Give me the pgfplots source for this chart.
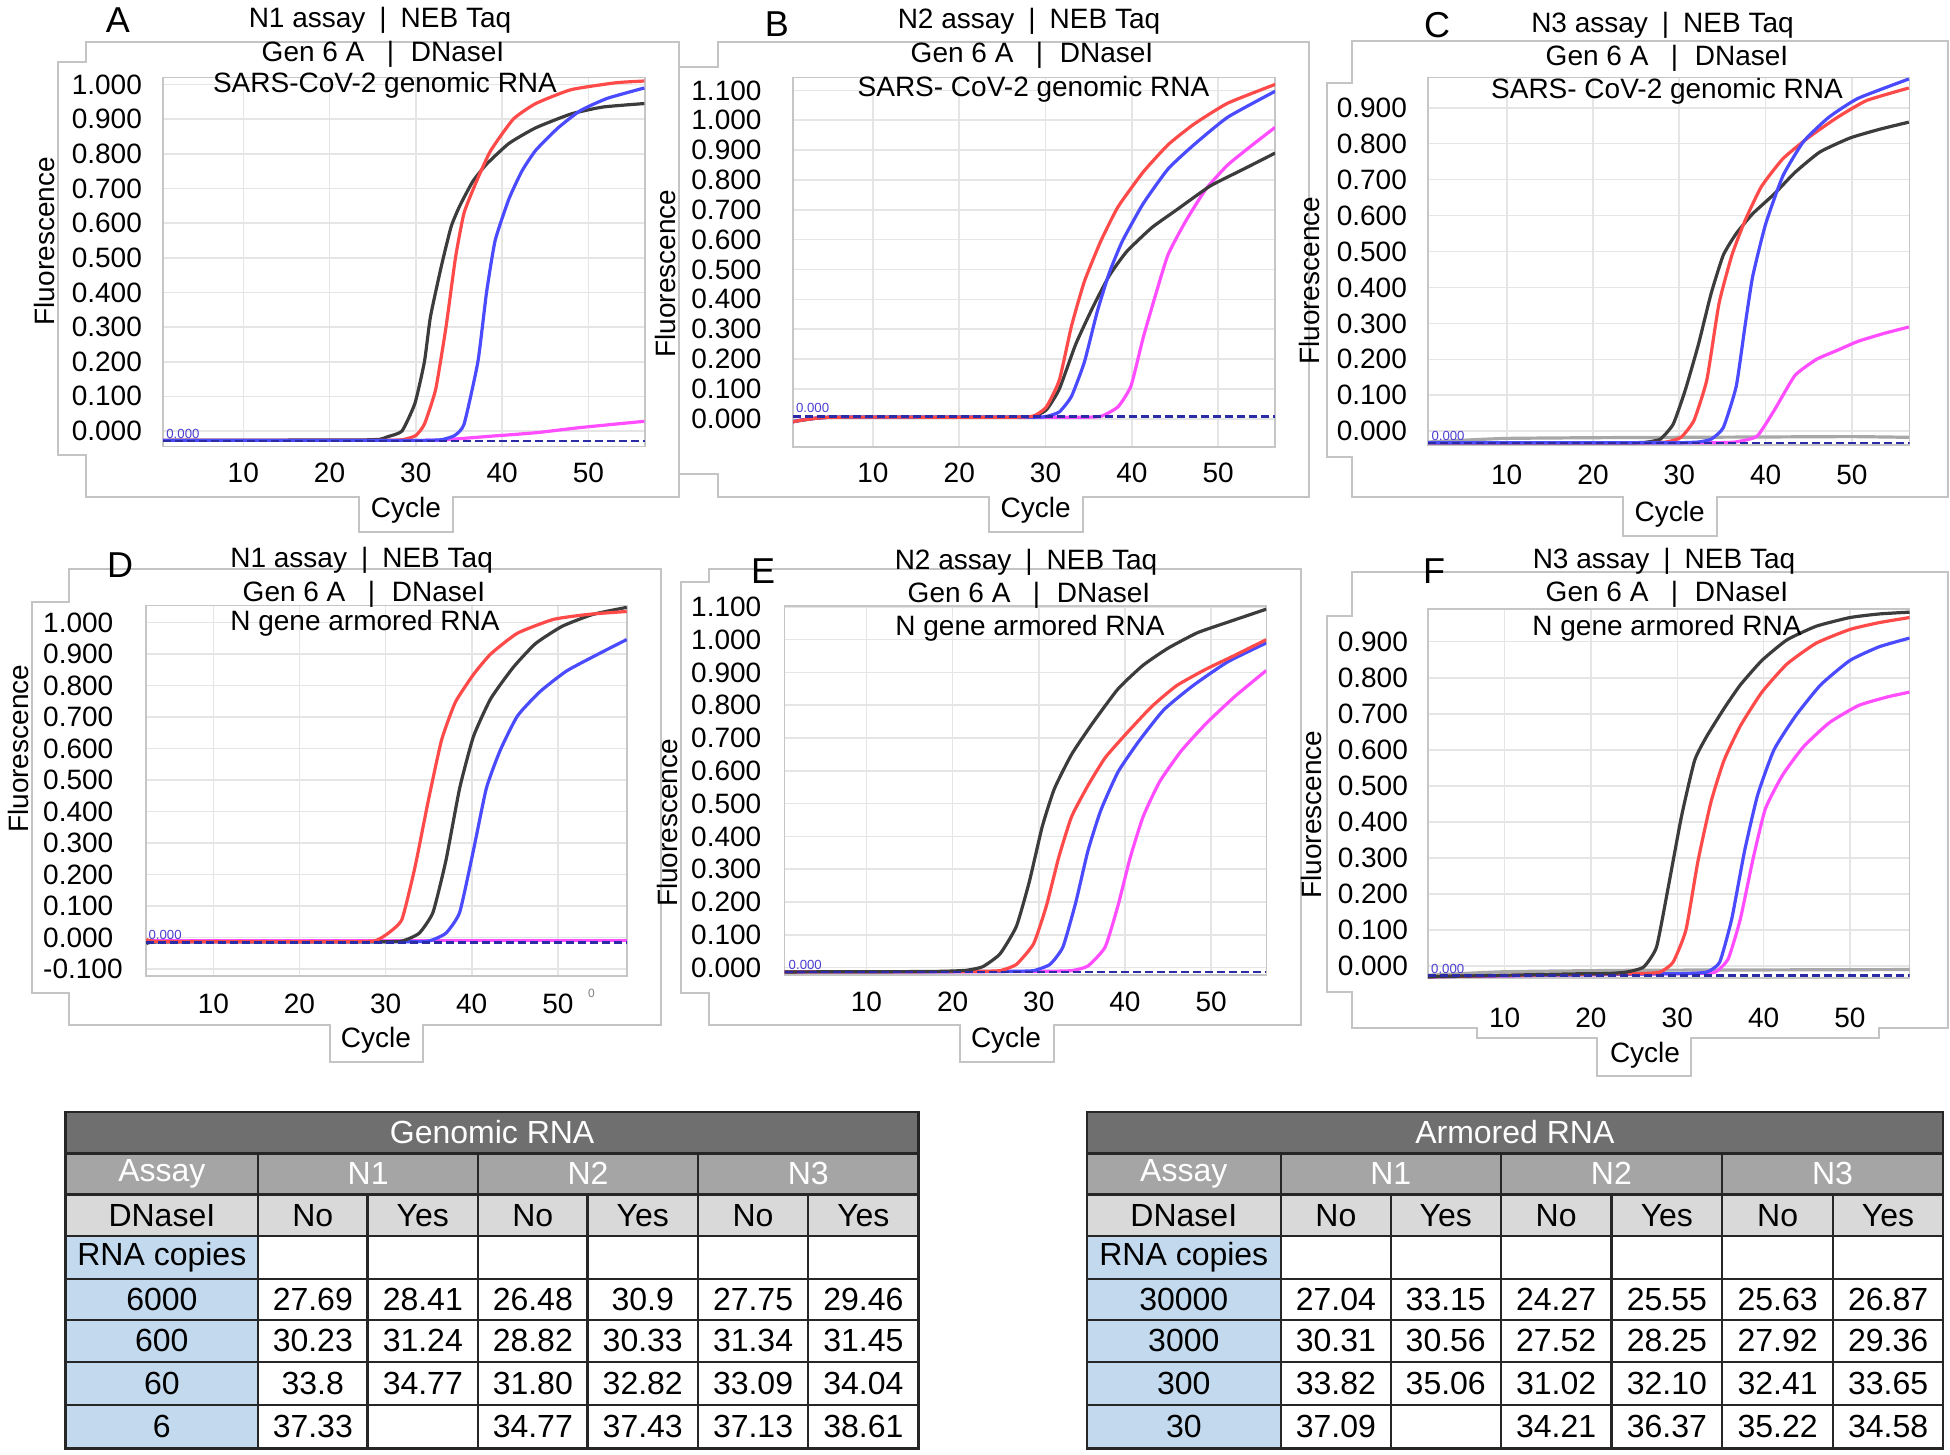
\documentclass[border=0pt]{standalone}
\usepackage{fontspec}
\setmainfont{Liberation Sans}
\usepackage{pgfplots}
\pgfplotsset{compat=1.18}
\definecolor{qblack}{HTML}{3C3C3C}
\definecolor{qred}{HTML}{FF4A4A}
\definecolor{qblue}{HTML}{4A4AFF}
\definecolor{qmag}{HTML}{FF4DFF}
\definecolor{qdash}{HTML}{2B2BA8}
\definecolor{qgray}{HTML}{A8A8A8}
\definecolor{qlab}{HTML}{4B3FD1}
\definecolor{frame}{HTML}{C4C4C4}
\definecolor{tabdark}{HTML}{6F6F6F}
\definecolor{tabmid}{HTML}{A5A5A5}
\definecolor{tablight}{HTML}{D9D9D9}
\definecolor{tabblue}{HTML}{C2D9EE}
\newcommand{\fsz}[1]{\fontsize{#1}{#1}\selectfont}
\pgfplotsset{
  qpcr/.style={scale only axis, anchor=north west,
    xtick={10,20,30,40,50},
    grid=major, major grid style={gray!20, line width=0.4pt},
    axis line style={gray!45, line width=0.4pt},
    tick style={draw=none},
    scaled y ticks=false,
    ticklabel style={font=\fsz{7}},
    /pgf/number format/assume math mode=true,
    yticklabel style={anchor=west, inner sep=0pt,
      /pgf/number format/fixed, /pgf/number format/fixed zerofill,
      /pgf/number format/precision=3},
    xticklabel style={anchor=center, inner sep=0pt},
    every axis plot/.append style={line width=0.8pt, smooth, tension=0.3},
  },
  dashline/.style={qdash, line width=0.6pt, dash pattern=on 2pt off 1pt, sharp plot},
}
\begin{document}
\begin{tikzpicture}
\useasboundingbox (0,0) rectangle (487.5pt,-363.75pt);
% ---------- panel frames ----------
\begin{scope}[x=0.25pt,y=-0.25pt,draw=frame,line width=0.5pt]
\draw (86,41.6) -- (679,41.6) -- (679,496.8) -- (453,496.8) -- (453,532.2) -- (359,532.2) -- (359,496.8) -- (86,496.8) -- (86,455.2) -- (58,455.2) -- (58,61.8) -- (86,61.8) -- cycle;
\draw (718,41.6) -- (1309,41.6) -- (1309,496.8) -- (1083,496.8) -- (1083,532.2) -- (989,532.2) -- (989,496.8) -- (718,496.8) -- (718,474.4) -- (679,474.4) -- (679,66.9) -- (718,66.9) -- cycle;
\draw (1352,40.6) -- (1948,40.6) -- (1948,496.8) -- (1717,496.8) -- (1717,536.3) -- (1622.5,536.3) -- (1622.5,496.8) -- (1352,496.8) -- (1352,457.2) -- (1327,457.2) -- (1327,83.1) -- (1352,83.1) -- cycle;
\draw (69,569.4) -- (661,569.4) -- (661,1024.6) -- (423,1024.6) -- (423,1062.1) -- (329.5,1062.1) -- (329.5,1024.6) -- (69,1024.6) -- (69,993.2) -- (32,993.2) -- (32,601.8) -- (69,601.8) -- cycle;
\draw (708.6,569.4) -- (1301,569.4) -- (1301,1024.6) -- (1054,1024.6) -- (1054,1062.1) -- (960,1062.1) -- (960,1024.6) -- (708.6,1024.6) -- (708.6,993.2) -- (681,993.2) -- (681,581.6) -- (708.6,581.6) -- cycle;
\draw (1352,572.4) -- (1948,572.4) -- (1948,1027.6) -- (1879,1027.6) -- (1879,1038.2) -- (1690.7,1038.2) -- (1690.7,1076.2) -- (1597,1076.2) -- (1597,1038.2) -- (1477,1038.2) -- (1477,1027.6) -- (1352,1027.6) -- (1352,992.3) -- (1327,992.3) -- (1327,616) -- (1352,616) -- cycle;
\end{scope}
% ---------- Panel A ----------
\begin{axis}[qpcr, at={(40.75pt,-19.39pt)}, width=120.5pt, height=92.26pt,
  xmin=0.69, xmax=56.57, ymin=-0.045, ymax=1.02,
  ytick={0,0.1,0.2,0.3,0.4,0.5,0.6,0.7,0.8,0.9,1.0},
  yticklabel style={xshift=-23pt}, xticklabel style={yshift=-6.5pt}]
\addplot[qmag] coordinates {(0.7,-0.027) (30,-0.027) (33,-0.026) (38.7,-0.015) (43.9,-0.005) (49.1,0.01) (56.5,0.028)};
\addplot[qblack] coordinates {(0.7,-0.027) (20,-0.026) (23.5,-0.026) (25.8,-0.024) (26.8,-0.016) (28.4,0.0) (29.9,0.08) (31.0,0.20) (31.7,0.33) (33.0,0.48) (34.1,0.59) (35.1,0.65) (36.6,0.72) (38.2,0.77) (40.8,0.83) (43.9,0.875) (48.0,0.915) (51.7,0.935) (56.5,0.945)};
\addplot[qred] coordinates {(0.7,-0.027) (23,-0.027) (26.5,-0.027) (28.5,-0.025) (30.0,-0.013) (31.0,0.02) (32.3,0.12) (33.5,0.30) (34.6,0.50) (35.6,0.63) (37.2,0.73) (38.7,0.81) (41.3,0.90) (43.9,0.945) (48.0,0.985) (53.2,1.005) (56.5,1.01)};
\addplot[qblue] coordinates {(0.7,-0.027) (27,-0.027) (31,-0.027) (33.0,-0.025) (34.5,-0.013) (35.6,0.02) (37.2,0.20) (38.2,0.40) (39.2,0.55) (40.8,0.67) (42.3,0.75) (43.9,0.81) (46.5,0.875) (49.1,0.925) (52.2,0.96) (56.5,0.99)};
\addplot[dashline] coordinates {(0.7,-0.028) (56.6,-0.028)};
\node[qlab, font=\fsz{3.3}] at (axis cs:3.0,-0.008) {0.000};
\end{axis}
% ---------- Panel B ----------
\begin{axis}[qpcr, at={(198.25pt,-19.39pt)}, width=120.5pt, height=92.39pt,
  xmin=0.73, xmax=56.59, ymin=-0.095, ymax=1.143,
  ytick={-0.1,0,0.1,0.2,0.3,0.4,0.5,0.6,0.7,0.8,0.9,1.0,1.1},
  yticklabel style={xshift=-25.6pt}, xticklabel style={yshift=-6.35pt}]
\addplot[qmag] coordinates {(0.7,-0.01) (5,0.005) (30,0.005) (34,0.005) (36.4,0.008) (38.4,0.04) (39.9,0.11) (41.3,0.27) (42.8,0.42) (44.2,0.55) (46.2,0.66) (48.6,0.77) (51.1,0.85) (54.0,0.918) (56.6,0.976)};
\addplot[qblack] coordinates {(0.7,-0.01) (5,0.005) (22,0.005) (26,0.005) (28.6,0.008) (30.1,0.03) (31.6,0.10) (33.5,0.25) (35.5,0.375) (37.4,0.48) (39.4,0.56) (42.3,0.64) (45.2,0.70) (49.1,0.78) (53.0,0.837) (56.6,0.89)};
\addplot[qblue] coordinates {(0.7,-0.01) (5,0.005) (24,0.005) (28,0.005) (30,0.007) (31.6,0.023) (33.0,0.075) (34.5,0.19) (36.0,0.36) (37.4,0.49) (38.9,0.595) (41.3,0.72) (44.2,0.837) (47.2,0.918) (51.1,1.01) (56.6,1.097)};
\addplot[qred] coordinates {(0.7,-0.01) (5,0.005) (22,0.005) (26,0.005) (28.6,0.009) (30.1,0.04) (31.6,0.13) (33.0,0.31) (34.5,0.46) (36.4,0.595) (38.4,0.71) (41.3,0.826) (44.2,0.918) (47.2,0.987) (51.1,1.057) (56.6,1.12)};
\addplot[dashline] coordinates {(0.7,0.008) (56.6,0.008)};
\node[qlab, font=\fsz{3.3}] at (axis cs:3.0,0.035) {0.000};
\end{axis}
% ---------- Panel C ----------
\begin{axis}[qpcr, at={(357pt,-19.39pt)}, width=120.375pt, height=91.83pt,
  xmin=0.88, xmax=56.68, ymin=-0.038, ymax=0.984,
  ytick={0,0.1,0.2,0.3,0.4,0.5,0.6,0.7,0.8,0.9},
  yticklabel style={xshift=-23pt}, xticklabel style={yshift=-7.6pt}]
\addplot[qgray] coordinates {(0.9,-0.03) (5,-0.025) (10,-0.02) (20,-0.018) (30,-0.017) (40,-0.016) (50,-0.015) (56.6,-0.017)};
\addplot[qmag] coordinates {(0.9,-0.032) (30,-0.032) (34,-0.032) (36.5,-0.030) (39.0,-0.014) (41.0,0.058) (43.4,0.155) (45.9,0.20) (48.3,0.225) (50.7,0.25) (53.7,0.272) (56.6,0.29)};
\addplot[qblack] coordinates {(0.9,-0.032) (20,-0.032) (24,-0.032) (26,-0.031) (27.8,-0.022) (29.3,0.02) (30.7,0.115) (32.2,0.24) (33.7,0.384) (35.1,0.49) (36.6,0.55) (38.5,0.605) (41.0,0.66) (43.4,0.72) (46.3,0.777) (49.8,0.816) (53.2,0.84) (56.6,0.86)};
\addplot[qred] coordinates {(0.9,-0.032) (22,-0.032) (26,-0.032) (28.5,-0.030) (30.2,-0.017) (31.7,0.03) (33.2,0.144) (34.6,0.355) (36.1,0.49) (37.6,0.585) (39.5,0.68) (42.0,0.758) (44.9,0.816) (48.3,0.873) (51.7,0.92) (56.6,0.955)};
\addplot[qblue] coordinates {(0.9,-0.032) (26,-0.032) (30,-0.032) (32.2,-0.030) (33.7,-0.022) (35.1,0.01) (36.6,0.125) (37.6,0.29) (38.5,0.43) (40.0,0.576) (42.0,0.71) (44.4,0.806) (47.3,0.873) (50.7,0.926) (56.6,0.98)};
\addplot[dashline] coordinates {(0.9,-0.032) (56.7,-0.032)};
\node[qlab, font=\fsz{3.3}] at (axis cs:3.2,-0.012) {0.000};
\end{axis}
% ---------- Panel D ----------
\begin{axis}[qpcr, at={(36.5pt,-151.375pt)}, width=120.25pt, height=92.68pt,
  xmin=2.18, xmax=58.03, ymin=-0.1225, ymax=1.054,
  ytick={-0.1,0,0.1,0.2,0.3,0.4,0.5,0.6,0.7,0.8,0.9,1.0},
  yticklabel style={xshift=-25.9pt}, xticklabel style={yshift=-6.85pt}]
\addplot[qmag] coordinates {(2.2,-0.01) (58,-0.01)};
\addplot[qblue] coordinates {(2.2,-0.013) (28,-0.013) (32,-0.013) (35.0,-0.011) (37.0,0.014) (38.6,0.08) (40.2,0.277) (41.7,0.474) (43.3,0.594) (45.3,0.703) (47.9,0.78) (51.0,0.846) (54.7,0.90) (58,0.946)};
\addplot[qblack] coordinates {(2.2,-0.02) (4,-0.013) (25,-0.013) (29,-0.013) (31.9,-0.011) (33.9,0.014) (35.5,0.08) (37.0,0.244) (38.6,0.474) (40.2,0.638) (42.2,0.758) (44.8,0.857) (47.4,0.933) (50.5,0.988) (54.1,1.026) (58,1.048)};
\addplot[qred] coordinates {(2.2,-0.005) (4,-0.013) (22,-0.013) (26,-0.013) (28.8,-0.010) (30.3,0.014) (31.9,0.058) (33.4,0.222) (35.0,0.44) (36.5,0.627) (38.1,0.747) (40.2,0.835) (42.2,0.90) (45.3,0.966) (49.5,1.01) (53.6,1.026) (58,1.035)};
\addplot[dashline] coordinates {(2.2,-0.016) (58,-0.016)};
\node[qlab, font=\fsz{3.3}] at (axis cs:4.4,0.009) {0.000};
\end{axis}
% ---------- Panel E ----------
\begin{axis}[qpcr, at={(196.1pt,-151.55pt)}, width=120.475pt, height=92.25pt,
  xmin=0.48, xmax=56.4, ymin=-0.023, ymax=1.102,
  ytick={0,0.1,0.2,0.3,0.4,0.5,0.6,0.7,0.8,0.9,1.0,1.1},
  yticklabel style={xshift=-23.5pt}, xticklabel style={yshift=-6.7pt}]
\addplot[qmag] coordinates {(0.5,-0.013) (27,-0.012) (31,-0.011) (33.8,-0.009) (35.7,0.005) (37.7,0.063) (39.2,0.19) (40.6,0.335) (42.1,0.46) (44.0,0.566) (46.5,0.66) (49.4,0.744) (52.8,0.828) (56.4,0.906)};
\addplot[qblue] coordinates {(0.5,-0.013) (23,-0.012) (27,-0.011) (29.4,-0.009) (31.3,0.01) (32.8,0.063) (34.3,0.20) (35.7,0.356) (37.2,0.48) (39.2,0.597) (41.6,0.69) (44.5,0.786) (47.9,0.86) (51.9,0.932) (56.4,0.99)};
\addplot[qred] coordinates {(0.5,-0.013) (19,-0.012) (23,-0.011) (25.5,-0.009) (27.4,0.01) (29.4,0.073) (30.9,0.19) (32.3,0.335) (33.8,0.46) (35.7,0.555) (37.7,0.64) (40.1,0.712) (43.1,0.796) (46.0,0.86) (49.4,0.91) (52.8,0.953) (56.4,1.0)};
\addplot[qblack] coordinates {(0.5,-0.013) (15,-0.012) (19,-0.011) (21.6,-0.008) (23.5,0.003) (25.5,0.042) (27.4,0.126) (28.9,0.262) (30.4,0.43) (31.8,0.545) (33.8,0.65) (36.2,0.744) (39.2,0.85) (42.1,0.922) (45.0,0.974) (48.4,1.021) (51.9,1.053) (56.4,1.093)};
\addplot[dashline] coordinates {(0.5,-0.013) (56.4,-0.013)};
\node[qlab, font=\fsz{3.3}] at (axis cs:2.9,0.008) {0.000};
\end{axis}
% ---------- Panel F ----------
\begin{axis}[qpcr, at={(357pt,-152.225pt)}, width=120.375pt, height=92.28pt,
  xmin=1.12, xmax=56.9, ymin=-0.0335, ymax=0.991,
  ytick={0,0.1,0.2,0.3,0.4,0.5,0.6,0.7,0.8,0.9},
  yticklabel style={xshift=-22.75pt}, xticklabel style={yshift=-9.9pt}]
\addplot[qgray] coordinates {(1.1,-0.026) (10,-0.016) (25,-0.012) (40,-0.011) (56.9,-0.01)};
\addplot[qmag] coordinates {(1.1,-0.03) (28,-0.022) (32,-0.021) (34.4,-0.017) (35.9,0.02) (37.3,0.13) (38.8,0.30) (40.2,0.436) (42.2,0.53) (44.6,0.608) (47.6,0.675) (51.0,0.723) (54.4,0.747) (56.9,0.76)};
\addplot[qblue] coordinates {(1.1,-0.03) (27,-0.022) (31,-0.021) (33.4,-0.017) (34.9,0.01) (36.3,0.13) (37.8,0.32) (39.3,0.474) (41.2,0.6) (43.7,0.694) (46.6,0.78) (50.0,0.848) (53.4,0.886) (56.9,0.91)};
\addplot[qred] coordinates {(1.1,-0.03) (22,-0.022) (26,-0.021) (28.0,-0.017) (29.5,0.01) (31.0,0.10) (32.4,0.292) (33.9,0.455) (35.4,0.57) (37.3,0.666) (39.8,0.76) (42.7,0.838) (46.1,0.896) (50.0,0.934) (53.4,0.953) (56.9,0.967)};
\addplot[qblack] coordinates {(1.1,-0.03) (18,-0.022) (22,-0.021) (24.1,-0.017) (26.1,-0.003) (27.6,0.053) (29.0,0.225) (30.5,0.417) (32.0,0.57) (33.4,0.637) (35.4,0.714) (37.3,0.78) (39.8,0.848) (42.7,0.905) (46.1,0.943) (50.0,0.967) (53.4,0.977) (56.9,0.982)};
\addplot[dashline] coordinates {(1.1,-0.026) (56.9,-0.026)};
\node[qlab, font=\fsz{3.3}] at (axis cs:3.4,-0.007) {0.000};
\end{axis}
% ---------- texts ----------
\begin{scope}[x=0.25pt,y=-0.25pt]
\tikzset{ttl/.style={font=\fsz{7}, inner sep=0pt}, let/.style={font=\fsz{9}, inner sep=0pt}}
\node[let] at (118,20) {A};
\node[let] at (777,24.5) {B};
\node[let] at (1437,25) {C};
\node[let] at (120,565) {D};
\node[let] at (763,571.4) {E};
\node[let] at (1434,571.4) {F};
\node[ttl] at (380,20) {N1 assay\hspace{0.5em}|\hspace{0.5em}NEB Taq};
\node[ttl] at (383,54) {Gen 6 A\hspace{0.8em}|\hspace{0.6em}DNaseI};
\node[ttl] at (385,85.5) {SARS-CoV-2 genomic RNA};
\node[ttl] at (1029,21) {N2 assay\hspace{0.5em}|\hspace{0.5em}NEB Taq};
\node[ttl] at (1032,55) {Gen 6 A\hspace{0.8em}|\hspace{0.6em}DNaseI};
\node[ttl] at (1033.5,89.5) {SARS- CoV-2 genomic RNA};
\node[ttl] at (1662.5,25) {N3 assay\hspace{0.5em}|\hspace{0.5em}NEB Taq};
\node[ttl] at (1667,58.5) {Gen 6 A\hspace{0.8em}|\hspace{0.6em}DNaseI};
\node[ttl] at (1667,91.5) {SARS- CoV-2 genomic RNA};
\node[ttl] at (361.6,560) {N1 assay\hspace{0.5em}|\hspace{0.5em}NEB Taq};
\node[ttl] at (364,594) {Gen 6 A\hspace{0.8em}|\hspace{0.6em}DNaseI};
\node[ttl] at (365,623.5) {N gene armored RNA};
\node[ttl] at (1026,562) {N2 assay\hspace{0.5em}|\hspace{0.5em}NEB Taq};
\node[ttl] at (1029,595.5) {Gen 6 A\hspace{0.8em}|\hspace{0.6em}DNaseI};
\node[ttl] at (1030,628.5) {N gene armored RNA};
\node[ttl] at (1664,561) {N3 assay\hspace{0.5em}|\hspace{0.5em}NEB Taq};
\node[ttl] at (1667,594.5) {Gen 6 A\hspace{0.8em}|\hspace{0.6em}DNaseI};
\node[ttl] at (1667,628.5) {N gene armored RNA};
\foreach \x/\y in {44.6/241.3, 665/273.7, 1309/280.8, 18/748.8, 667/822.9, 1311/814.7}
  \node[ttl, rotate=90] at (\x,\y) {Fluorescence};
\foreach \x/\y in {406/510, 1035.6/510, 1669.6/514, 376/1040, 1006/1040, 1645/1055.5}
  \node[ttl] at (\x,\y) {Cycle};
\node[font=\fsz{3}, text=gray] at (591.5,993) {0};
% ---------- Table 1 ----------
\fill[tabdark] (65.6,1111.7) rectangle (918.6,1153.3);
\fill[tabmid] (65.6,1153.3) rectangle (918.6,1194.3);
\fill[tablight] (65.6,1194.3) rectangle (918.6,1236);
\fill[tabblue] (65.6,1236) rectangle (258.1,1448.3);
\begin{scope}[draw=black!85, line width=0.6pt]
\draw (65.6,1111.7) rectangle (918.6,1448.3);
\foreach \r in {1153.3,1194.3,1236,1279,1320,1361.7,1405} \draw (65.6,\r) -- (918.6,\r);
\foreach \c in {258.1,478.1,698.0} \draw (\c,1153.3) -- (\c,1448.3);
\foreach \c in {367.5,587.5,808.1} \draw (\c,1194.3) -- (\c,1448.3);
\end{scope}
\tikzset{tb/.style={font=\fsz{8}, inner sep=0pt}}
\node[tb, text=white] at (492.1,1132.5) {Genomic RNA};
\node[tb, text=white] at (161.85,1173.8) {Assay};
\node[tb, text=white] at (368.1,1173.8) {N1};
\node[tb, text=white] at (588.05,1173.8) {N2};
\node[tb, text=white] at (808.3,1173.8) {N3};
\node[tb] at (161.85,1215.15) {DNaseI};
\foreach \x/\t in {312.8/No,422.8/Yes,532.8/No,642.75/Yes,753.05/No,863.35/Yes}
  \node[tb] at (\x,1215.15) {\t};
\node[tb] at (161.85,1257.5) {RNA copies};
\foreach \y/\l/\a/\b/\c/\d/\e/\f in {
  1299.5/6000/27.69/28.41/26.48/30.9/27.75/29.46,
  1340.85/600/30.23/31.24/28.82/30.33/31.34/31.45,
  1383.35/60/33.8/34.77/31.80/32.82/33.09/34.04,
  1426.65/6/37.33//34.77/37.43/37.13/38.61}{
  \node[tb] at (161.85,\y) {\l};
  \node[tb] at (312.8,\y) {\a};
  \node[tb] at (422.8,\y) {\b};
  \node[tb] at (532.8,\y) {\c};
  \node[tb] at (642.75,\y) {\d};
  \node[tb] at (753.05,\y) {\e};
  \node[tb] at (863.35,\y) {\f};
}
% ---------- Table 2 ----------
\fill[tabdark] (1086.7,1111.7) rectangle (1943,1153.3);
\fill[tabmid] (1086.7,1153.3) rectangle (1943,1194.3);
\fill[tablight] (1086.7,1194.3) rectangle (1943,1236);
\fill[tabblue] (1086.7,1236) rectangle (1280.9,1448.3);
\begin{scope}[draw=black!85, line width=0.6pt]
\draw (1086.7,1111.7) rectangle (1943,1448.3);
\foreach \r in {1153.3,1194.3,1236,1279,1320,1361.7,1405} \draw (1086.7,\r) -- (1943,\r);
\foreach \c in {1280.9,1500.7,1722.1} \draw (\c,1153.3) -- (\c,1448.3);
\foreach \c in {1390.8,1611.6,1833.1} \draw (\c,1194.3) -- (\c,1448.3);
\end{scope}
\node[tb, text=white] at (1514.85,1132.5) {Armored RNA};
\node[tb, text=white] at (1183.8,1173.8) {Assay};
\node[tb, text=white] at (1390.8,1173.8) {N1};
\node[tb, text=white] at (1611.4,1173.8) {N2};
\node[tb, text=white] at (1832.55,1173.8) {N3};
\node[tb] at (1183.8,1215.15) {DNaseI};
\foreach \x/\t in {1335.85/No,1445.75/Yes,1556.15/No,1666.85/Yes,1777.6/No,1888.05/Yes}
  \node[tb] at (\x,1215.15) {\t};
\node[tb] at (1183.8,1257.5) {RNA copies};
\foreach \y/\l/\a/\b/\c/\d/\e/\f in {
  1299.5/30000/27.04/33.15/24.27/25.55/25.63/26.87,
  1340.85/3000/30.31/30.56/27.52/28.25/27.92/29.36,
  1383.35/300/33.82/35.06/31.02/32.10/32.41/33.65,
  1426.65/30/37.09//34.21/36.37/35.22/34.58}{
  \node[tb] at (1183.8,\y) {\l};
  \node[tb] at (1335.85,\y) {\a};
  \node[tb] at (1445.75,\y) {\b};
  \node[tb] at (1556.15,\y) {\c};
  \node[tb] at (1666.85,\y) {\d};
  \node[tb] at (1777.6,\y) {\e};
  \node[tb] at (1888.05,\y) {\f};
}
\end{scope}
\end{tikzpicture}
\end{document}
